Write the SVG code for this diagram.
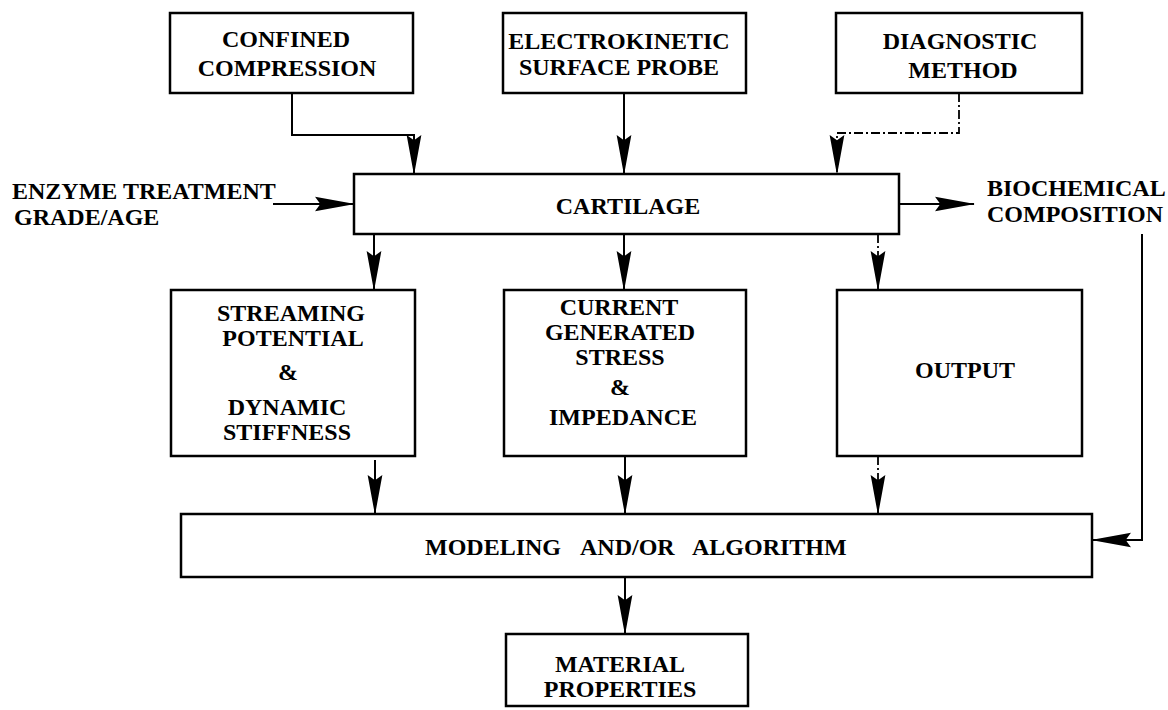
<svg xmlns="http://www.w3.org/2000/svg" width="1168" height="710" viewBox="0 0 1168 710">
<defs>
<style>
.box{fill:#fff;stroke:#000;stroke-width:2.5}
.t{font-family:'Liberation Serif','DejaVu Serif','Noto Serif',serif;font-weight:700;font-size:24px;fill:#000}
.c{text-anchor:middle}
.ln{fill:none;stroke:#000;stroke-width:2}
.dd{fill:none;stroke:#000;stroke-width:1.8;stroke-dasharray:9 3 2 3}
</style>
<marker id="ah" markerUnits="userSpaceOnUse" markerWidth="40" markerHeight="16" viewBox="0 0 38 14" refX="37" refY="7" orient="auto">
<path d="M0,0 L38,7 L0,14 L5,7 z" fill="#000"/>
</marker>
</defs>
<rect width="1168" height="710" fill="#fff"/>
<g id="connectors">
<polyline class="ln" points="292,93 292,135 414,135 414,174" marker-end="url(#ah)"/>
<line class="ln" x1="624" y1="93" x2="624" y2="174" marker-end="url(#ah)"/>
<polyline class="dd" points="959,93 959,133 837,133 837,174" marker-end="url(#ah)"/>
<line class="ln" x1="273" y1="204" x2="354" y2="204" marker-end="url(#ah)"/>
<line class="ln" x1="899" y1="204" x2="974" y2="204" marker-end="url(#ah)"/>
<line class="ln" x1="374" y1="234" x2="374" y2="290" marker-end="url(#ah)"/>
<line class="ln" x1="624" y1="234" x2="624" y2="290" marker-end="url(#ah)"/>
<line class="dd" x1="878" y1="234" x2="878" y2="290" marker-end="url(#ah)"/>
<line class="ln" x1="375" y1="460" x2="375" y2="514" marker-end="url(#ah)"/>
<line class="ln" x1="625" y1="456" x2="625" y2="514" marker-end="url(#ah)"/>
<line class="dd" x1="878" y1="456" x2="878" y2="514" marker-end="url(#ah)"/>
<polyline class="ln" points="1142,234 1142,540 1092,540" marker-end="url(#ah)"/>
<line class="ln" x1="625" y1="577" x2="625" y2="634" marker-end="url(#ah)"/>
</g>
<g id="confined">
<rect class="box" x="170" y="13" width="243" height="80"/>
<text class="t c" x="286" y="47">CONFINED</text>
<text class="t c" x="287" y="76">COMPRESSION</text>
</g>
<g id="electrokinetic">
<rect class="box" x="503" y="13" width="243" height="80"/>
<text class="t c" x="619" y="49">ELECTROKINETIC</text>
<text class="t c" x="619" y="75">SURFACE PROBE</text>
</g>
<g id="diagnostic">
<rect class="box" x="836" y="13" width="246" height="80"/>
<text class="t c" x="960" y="49">DIAGNOSTIC</text>
<text class="t c" x="963" y="78">METHOD</text>
</g>
<g id="enzyme">
<text class="t" x="12" y="199">ENZYME TREATMENT</text>
<text class="t" x="14" y="225">GRADE/AGE</text>
</g>
<g id="cartilage">
<rect class="box" x="354" y="174" width="545" height="60"/>
<text class="t c" x="628" y="214">CARTILAGE</text>
</g>
<g id="biochemical">
<text class="t" x="987" y="196">BIOCHEMICAL</text>
<text class="t" x="987" y="222">COMPOSITION</text>
</g>
<g id="streaming">
<rect class="box" x="171" y="290" width="244" height="166"/>
<text class="t c" x="291" y="321">STREAMING</text>
<text class="t c" x="293" y="346">POTENTIAL</text>
<text class="t c" x="288" y="380">&amp;</text>
<text class="t c" x="287" y="415">DYNAMIC</text>
<text class="t c" x="287" y="440">STIFFNESS</text>
</g>
<g id="current">
<rect class="box" x="504" y="290" width="242" height="166"/>
<text class="t c" x="619" y="315">CURRENT</text>
<text class="t c" x="620" y="340">GENERATED</text>
<text class="t c" x="620" y="365">STRESS</text>
<text class="t c" x="620" y="395">&amp;</text>
<text class="t c" x="623" y="425">IMPEDANCE</text>
</g>
<g id="output">
<rect class="box" x="837" y="290" width="245" height="166"/>
<text class="t c" x="965" y="378">OUTPUT</text>
</g>
<g id="modeling">
<rect class="box" x="181" y="514" width="911" height="63"/>
<text class="t" x="425" y="555">MODELING<tspan x="580">AND/OR</tspan><tspan x="692">ALGORITHM</tspan></text>
</g>
<g id="material">
<rect class="box" x="506" y="634" width="242" height="72"/>
<text class="t c" x="620" y="672">MATERIAL</text>
<text class="t c" x="620" y="697">PROPERTIES</text>
</g>
</svg>
